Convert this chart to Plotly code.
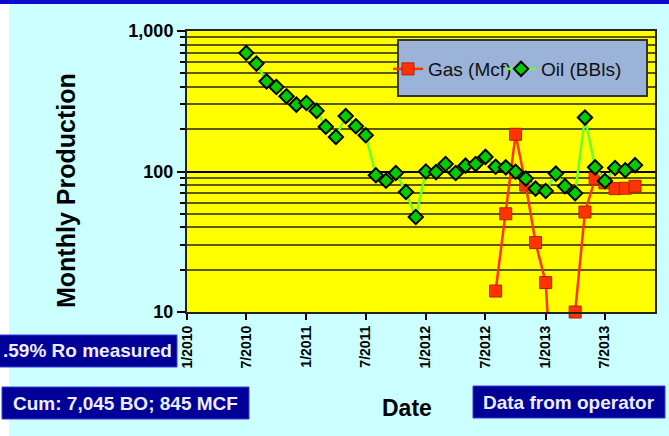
import plotly.graph_objects as go

# ---------------- data ----------------
oil_dates = [
    "2010-07-01", "2010-08-01", "2010-09-01", "2010-10-01", "2010-11-01", "2010-12-01",
    "2011-01-01", "2011-02-01", "2011-03-01", "2011-04-01", "2011-05-01", "2011-06-01",
    "2011-07-01", "2011-08-01", "2011-09-01", "2011-10-01", "2011-11-01", "2011-12-01",
    "2012-01-01", "2012-02-01", "2012-03-01", "2012-04-01", "2012-05-01", "2012-06-01",
    "2012-07-01", "2012-08-01", "2012-09-01", "2012-10-01", "2012-11-01", "2012-12-01",
    "2013-01-01", "2013-02-01", "2013-03-01", "2013-04-01", "2013-05-01", "2013-06-01",
    "2013-07-01", "2013-08-01", "2013-09-01", "2013-10-01",
]
oil_bbls = [
    697, 586, 438, 399, 343, 299,
    307, 270, 208, 176, 248, 210,
    181, 94, 86, 97.5, 71.5, 47.4,
    100, 99, 113, 97.5, 110, 113,
    127, 108, 107, 99.6, 89, 75.5,
    72.6, 96.6, 78.6, 70, 242, 107,
    85.5, 106, 102, 111,
]

gas_dates = [
    "2012-08-01", "2012-09-01", "2012-10-01", "2012-11-01", "2012-12-01",
    "2013-01-01", "2013-02-01", "2013-03-01", "2013-04-01", "2013-05-01",
    "2013-06-01", "2013-07-01", "2013-08-01", "2013-09-01", "2013-10-01",
]
gas_mcf = [14.1, 50, 184, 80, 31.2, 16.2, 1, 1, 10, 51.5, 89, 83, 75.5, 76, 78.5]

x_tick_vals = ["2010-01-01", "2010-07-01", "2011-01-01", "2011-07-01",
               "2012-01-01", "2012-07-01", "2013-01-01", "2013-07-01"]
x_tick_text = ["1/2010", "7/2010", "1/2011", "7/2011", "1/2012", "7/2012", "1/2013", "7/2013"]
y_tick_vals = [10, 100, 1000]
y_tick_text = ["10", "100", "1,000"]
y_minor_vals = [20, 30, 40, 50, 60, 70, 80, 90, 200, 300, 400, 500, 600, 700, 800, 900]

x_title = "Date"
y_title = "Monthly Production"

# ---------------- layout geometry (pixels) ----------------
W, H = 669, 436
L, R, T, B = 187, 655, 31, 312
pw, ph = R - L, B - T


def px(xp):
    return (xp - L) / pw


def py(yp):
    return (B - yp) / ph


FONT = "Liberation Sans, Arial, sans-serif"

fig = go.Figure()
fig.add_trace(go.Scatter(
    x=gas_dates, y=gas_mcf, name="Gas (Mcf)", mode="lines+markers",
    line=dict(color="#ff3300", width=2.5),
    marker=dict(symbol="square", size=12, color="#ff3300",
                line=dict(color="#b32000", width=1)),
    cliponaxis=False, legend="legend",
))
fig.add_trace(go.Scatter(
    x=oil_dates, y=oil_bbls, name="Oil (BBls)", mode="lines+markers",
    line=dict(color="#66ff33", width=2.5),
    marker=dict(symbol="diamond", size=11, color="#00cc00",
                line=dict(color="#000000", width=2)),
    legend="legend2",
))

shapes = [
    # top blue band
    dict(type="rect", xref="paper", yref="paper", x0=px(0), x1=px(W), y0=py(4), y1=py(0),
         fillcolor="#0a0ad0", line=dict(width=0), layer="below"),
    # white strip on left
    dict(type="rect", xref="paper", yref="paper", x0=px(0), x1=px(9), y0=py(H), y1=py(4),
         fillcolor="#ffffff", line=dict(width=0), layer="below"),
    # legend box
    dict(type="rect", xref="paper", yref="paper", x0=px(398), x1=px(647), y0=py(96), y1=py(40),
         fillcolor="#9bb3d9", line=dict(color="#333333", width=2), layer="above"),
]

boxes = [
    (".59% Ro measured", -2, 177, 335, 367),
    ("Cum: 7,045 BO; 845 MCF", 2, 249, 387, 419),
    ("Data from operator", 473, 665, 386, 418),
]
annotations = []
for text, x0, x1, y0, y1 in boxes:
    shapes.append(dict(type="rect", xref="paper", yref="paper", x0=px(x0), x1=px(x1),
                       y0=py(y1), y1=py(y0), fillcolor="#000099",
                       line=dict(color="#3b3bd6", width=1), layer="above"))
    annotations.append(dict(xref="paper", yref="paper", x=px((x0 + x1) / 2), y=py((y0 + y1) / 2),
                            text=text, showarrow=False, xanchor="center", yanchor="middle",
                            font=dict(family=FONT, size=19, color="#eeeeff", weight="bold")))

# axis titles
annotations.append(dict(xref="paper", yref="paper", x=px(407), y=py(408), text=x_title,
                        showarrow=False, xanchor="center", yanchor="middle",
                        font=dict(family=FONT, size=23, color="#000000", weight="bold")))
annotations.append(dict(xref="paper", yref="paper", x=px(66), y=py(190), text=y_title,
                        showarrow=False, xanchor="center", yanchor="middle", textangle=-90,
                        font=dict(family=FONT, size=25, color="#000000", weight="bold")))

legend_common = dict(orientation="h", yanchor="middle", bgcolor="rgba(0,0,0,0)",
                     borderwidth=0, itemwidth=30,
                     font=dict(family=FONT, size=19, color="#111111"))

fig.update_layout(
    width=W, height=H,
    margin=dict(l=L, r=W - R, t=T, b=H - B, autoexpand=False),
    paper_bgcolor="#ccffff",
    plot_bgcolor="#ffff00",
    shapes=shapes,
    annotations=annotations,
    showlegend=True,
    legend=dict(x=px(388), y=py(69), xanchor="left", **legend_common),
    legend2=dict(x=px(501), y=py(69), xanchor="left", **legend_common),
    font=dict(family=FONT, color="#000000"),
)

fig.update_xaxes(
    type="date", range=["2010-01-01", "2013-12-01"],
    tickmode="array", tickvals=x_tick_vals, ticktext=x_tick_text, tickangle=-90,
    tickfont=dict(family=FONT, size=14, color="#000000", weight="bold"),
    ticks="outside", ticklen=6, tickwidth=1.5, tickcolor="#000000",
    showgrid=False, zeroline=False,
    showline=True, linecolor="#222222", linewidth=2, mirror=True,
)
fig.update_yaxes(
    type="log", range=[1, 3],
    tickmode="array", tickvals=y_tick_vals, ticktext=y_tick_text,
    tickfont=dict(family=FONT, size=18, color="#000000", weight="bold"),
    ticks="outside", ticklen=8, tickwidth=1.5, tickcolor="#000000",
    showgrid=True, gridcolor="#000000", gridwidth=2,
    minor=dict(tickmode="array", tickvals=y_minor_vals, ticks="outside", ticklen=5,
               tickwidth=1.5, tickcolor="#000000", showgrid=True,
               gridcolor="#5a5a00", gridwidth=1.5),
    zeroline=False,
    showline=True, linecolor="#222222", linewidth=2, mirror=True,
)

fig.write_html("out.html")
